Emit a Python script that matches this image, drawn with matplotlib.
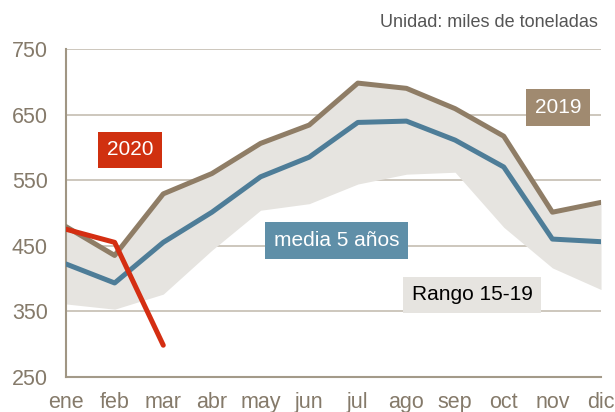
import matplotlib.pyplot as plt

plt.rcParams['font.family'] = ['Liberation Sans', 'DejaVu Sans']

meses = ["ene", "feb", "mar", "abr", "may", "jun", "jul", "ago", "sep", "oct", "nov", "dic"]
y2019 = [479, 435, 529, 560, 606, 634, 698, 690, 659, 617, 501, 516]
media = [422, 393, 455, 501, 555, 585, 638, 640, 611, 570, 460, 456]
y2020 = [475, 455, 298]
rango_min = [361, 353, 376, 443, 504, 514, 544, 559, 562, 478, 416, 383]
rango_max = [481, 437, 531, 562, 608, 636, 700, 692, 661, 619, 503, 518]

c2019 = "#8f7d66"
cmedia = "#4e7d98"
c2020 = "#d42e12"
cfill = "#e6e4e0"
ctick = "#857a6a"
cgrid = "#c9c3b8"

x = list(range(len(meses)))

fig = plt.figure(figsize=(6.15, 4.12), dpi=100)
ax = fig.add_axes([0.1073, 0.0857, 0.8700, 0.7953])

ax.fill_between(x, rango_min, rango_max, color=cfill, lw=0, zorder=2)
ax.plot(x, y2019, color=c2019, lw=3.6, zorder=3, solid_capstyle="round")
ax.plot(x, media, color=cmedia, lw=3.6, zorder=4, solid_capstyle="round")
ax.plot(x[:len(y2020)], y2020, color=c2020, lw=3.6, zorder=5, solid_capstyle="round")

ax.set_xlim(0, 11)
ax.set_ylim(250, 750)
ax.set_yticks([250, 350, 450, 550, 650, 750])
ax.set_xticks(x)
ax.set_xticklabels(meses)
ax.yaxis.grid(True, color=cgrid, lw=1.3, zorder=1)
ax.set_axisbelow(True)
for s in ["top", "right", "bottom"]:
    ax.spines[s].set_visible(False)
ax.spines["left"].set_color("#a09684")
ax.spines["left"].set_linewidth(1.5)
ax.tick_params(axis="both", length=0, labelsize=15.5, colors=ctick)
ax.tick_params(axis="x", pad=11)
ax.tick_params(axis="y", pad=13)
ax.axhline(250, color="#a39a89", lw=1.5, zorder=1, clip_on=False)

def etiqueta(xx, yy, txt, fc, tc="white"):
    ax.text(xx, yy, txt, fontsize=15, color=tc, ha="center", va="center", zorder=6,
            bbox=dict(boxstyle="square,pad=0.42", fc=fc, ec="none"))

etiqueta(1.32, 596, "2020", "#d0300f")
etiqueta(5.57, 458, "media 5 años", "#5f8fa8")
etiqueta(10.12, 661, "2019", "#a08a70")
etiqueta(8.35, 375, "Rango 15-19", cfill, tc="black")

fig.text(0.972, 0.945, "Unidad: miles de toneladas", fontsize=13, color="#555555",
         ha="right", va="center")

fig.savefig("out.png", dpi=100)
